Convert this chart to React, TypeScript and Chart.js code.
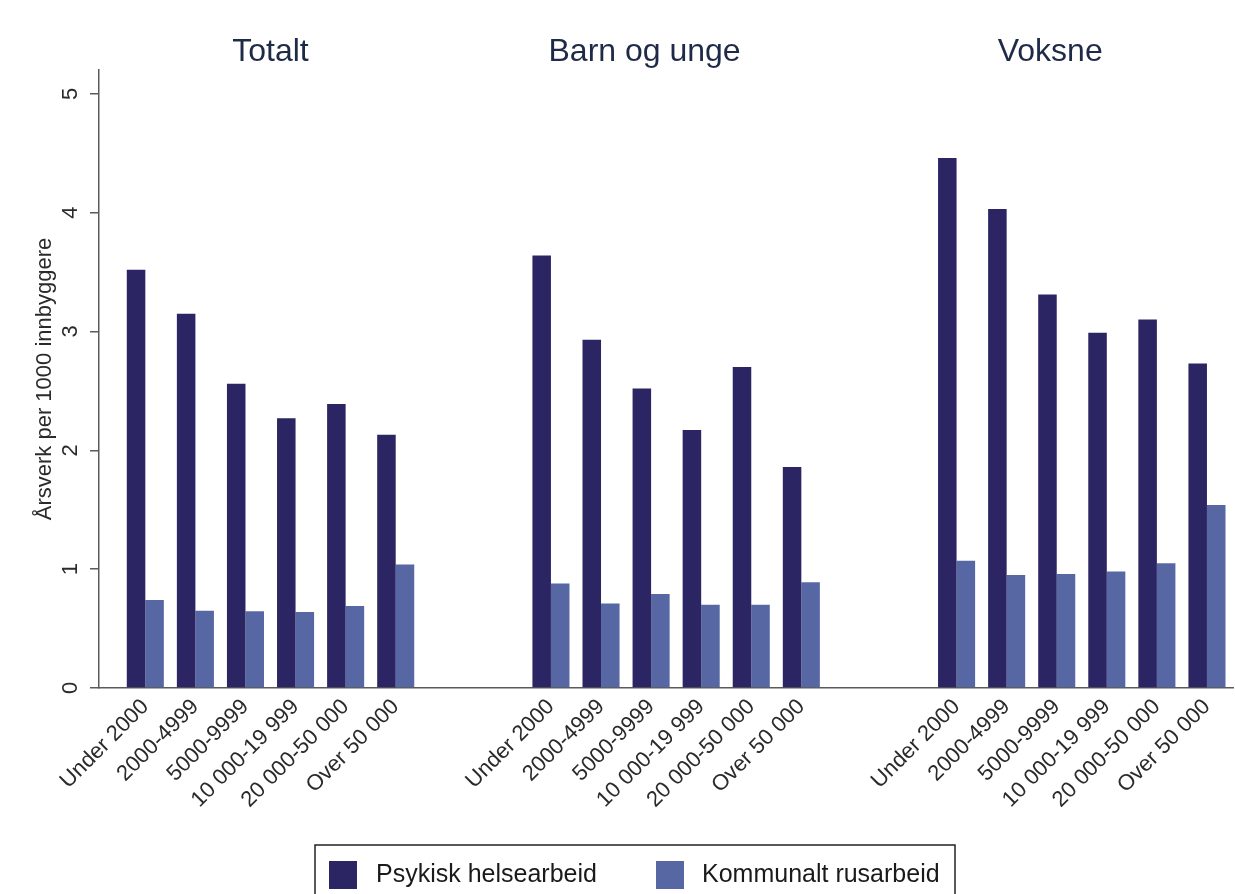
import React, { useEffect, useRef } from "react";
import { Chart, registerables } from "chart.js";

Chart.register(...registerables);

const categories = ["Under 2000", "2000-4999", "5000-9999", "10 000-19 999", "20 000-50 000", "Over 50 000"];
const groups = ["Totalt", "Barn og unge", "Voksne"];
const seriesNames = ["Psykisk helsearbeid", "Kommunalt rusarbeid"];

const psykiskTotalt = [3.52, 3.15, 2.56, 2.27, 2.39, 2.13];
const psykiskBarn = [3.64, 2.93, 2.52, 2.17, 2.70, 1.86];
const psykiskVoksne = [4.46, 4.03, 3.31, 2.99, 3.10, 2.73];

const rusTotalt = [0.74, 0.65, 0.645, 0.64, 0.69, 1.04];
const rusBarn = [0.88, 0.71, 0.79, 0.70, 0.70, 0.89];
const rusVoksne = [1.07, 0.95, 0.96, 0.98, 1.05, 1.54];

const yTicks = [0, 1, 2, 3, 4, 5];
const yTitle = "Årsverk per 1000 innbyggere";

const FONT = "'Liberation Sans', Arial, Helvetica, sans-serif";
const DARK = "#2c2563";
const LIGHT = "#5767a3";
const AXIS = "#5a5a5a";
const TEXT = "#2a2a2a";
const TITLE = "#1f2a48";

const GROUP_STEP = 8.1; // slots per group incl. gap
const positions: number[] = [];
const tickLabels: string[] = [];
groups.forEach((_, g) => {
  categories.forEach((c, i) => {
    positions.push(g * GROUP_STEP + i);
    tickLabels.push(c);
  });
});

const toPoints = (arrs: number[][]) =>
  arrs.flatMap((arr, g) => arr.map((v, i) => ({ x: g * GROUP_STEP + i, y: v })));

const overlayPlugin = {
  id: "overlay",
  afterDraw(chart: any) {
    const ctx = chart.ctx;
    const xs = chart.scales.x;
    const ys = chart.scales.y;
    const area = chart.chartArea;
    ctx.save();

    // y tick labels (rotated)
    ctx.fillStyle = TEXT;
    ctx.font = `22px ${FONT}`;
    ctx.textAlign = "center";
    ctx.textBaseline = "middle";
    yTicks.forEach((v) => {
      const py = ys.getPixelForValue(v);
      ctx.save();
      ctx.translate(area.left - 28, py);
      ctx.rotate(-Math.PI / 2);
      ctx.fillText(String(v), 0, 0);
      ctx.restore();
    });

    // group titles
    ctx.fillStyle = TITLE;
    ctx.font = `32px ${FONT}`;
    ctx.textAlign = "center";
    ctx.textBaseline = "alphabetic";
    groups.forEach((gName, g) => {
      const center = g * GROUP_STEP + (categories.length - 1) / 2 - (g > 0 ? 0.63 : 0);
      ctx.fillText(gName, xs.getPixelForValue(center), 61);
    });

    // legend
    const lx = 315;
    const ly = 845;
    const lw = 640;
    ctx.strokeStyle = "#222";
    ctx.lineWidth = 1.5;
    ctx.strokeRect(lx, ly, lw, 60);
    const items = [
      { name: seriesNames[0], color: DARK, box: 329, text: 376 },
      { name: seriesNames[1], color: LIGHT, box: 656, text: 702 },
    ];
    ctx.font = `25px ${FONT}`;
    ctx.textAlign = "left";
    ctx.textBaseline = "middle";
    items.forEach((it) => {
      ctx.fillStyle = it.color;
      ctx.fillRect(it.box, 861, 28, 28);
      ctx.fillStyle = "#1a1a1a";
      ctx.fillText(it.name, it.text, 875);
    });
    ctx.restore();
  },
};

export default function App() {
  const ref = useRef<HTMLCanvasElement | null>(null);
  useEffect(() => {
    if (!ref.current) return;
    const chart = new Chart(ref.current, {
      type: "bar",
      data: {
        datasets: [
          {
            label: seriesNames[0],
            data: toPoints([psykiskTotalt, psykiskBarn, psykiskVoksne]),
            backgroundColor: DARK,
            categoryPercentage: 0.74,
            barPercentage: 1,
          },
          {
            label: seriesNames[1],
            data: toPoints([rusTotalt, rusBarn, rusVoksne]),
            backgroundColor: LIGHT,
            categoryPercentage: 0.74,
            barPercentage: 1,
          },
        ],
      },
      options: {
        animation: false,
        responsive: false,
        layout: { padding: { top: 70, right: 2, left: 0, bottom: 0 } },
        plugins: {
          legend: { display: false },
          tooltip: { enabled: false },
        },
        scales: {
          x: {
            type: "linear",
            offset: false,
            min: -0.925,
            max: 21.72,
            grid: { display: false, drawTicks: false, offset: false },
            border: { display: true, color: AXIS, width: 1.5 },
            afterBuildTicks: (scale: any) => {
              scale.ticks = positions.map((v) => ({ value: v }));
            },
            afterFit: (scale: any) => {
              scale.height = 206;
            },
            ticks: {
              autoSkip: false,
              maxRotation: 45,
              minRotation: 45,
              padding: 6,
              color: TEXT,
              font: { family: FONT, size: 22 },
              callback: (_v: any, i: number) => tickLabels[i],
            },
          },
          y: {
            min: 0,
            max: 5.2,
            grid: { display: true, drawOnChartArea: false, drawTicks: true, tickLength: 9, color: AXIS, lineWidth: 1.5 },
            border: { display: true, color: AXIS, width: 1.5 },
            afterFit: (scale: any) => {
              scale.width = 99;
            },
            ticks: { display: false, stepSize: 1, includeBounds: false },
            title: {
              display: true,
              text: yTitle,
              color: TEXT,
              font: { family: FONT, size: 22 },
              padding: { top: 32, bottom: 0 },
            },
          },
        },
      },
      plugins: [overlayPlugin],
    });
    return () => chart.destroy();
  }, []);

  return (
    <div style={{ position: "absolute", left: 0, top: 0, width: 1235, height: 894, background: "#fff" }}>
      <canvas ref={ref} width={1235} height={894} style={{ width: 1235, height: 894, display: "block" }} />
    </div>
  );
}
